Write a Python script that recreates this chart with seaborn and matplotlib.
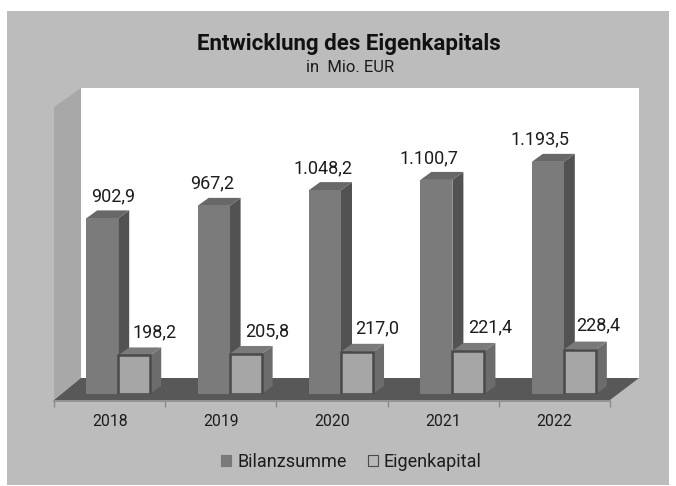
import matplotlib
matplotlib.use("Agg")
import matplotlib.pyplot as plt
import pandas as pd
import seaborn as sns
from matplotlib.patches import Polygon, Rectangle

# DATA
YEARS = ["2018", "2019", "2020", "2021", "2022"]
BILANZSUMME = [902.9, 967.2, 1048.2, 1100.7, 1193.5]
EIGENKAPITAL = [198.2, 205.8, 217.0, 221.4, 228.4]
SERIES = ["Bilanzsumme", "Eigenkapital"]

TITLE = "Entwicklung des Eigenkapitals"
SUBTITLE = "in  Mio. EUR"

# LAYOUT (pixels, origin top left like the reference)
W, H = 676, 486
DEPTH_X, DEPTH_Y = 11, 8
FONT = ["Roboto", "DejaVu Sans"]

# label nudges from the bar centre / bar top, pixels
DARK_NUDGE = [(11, 13), (-1, 14), (-2, 13), (-7, 13), (-8, 14)]
LIGHT_NUDGE = [(20, 14), (22, 14), (20, 14), (22, 15), (18, 15)]

# COLOURS
C_PANEL = "#bcbcbc"
C_WALL = "#a8a8a8"
C_FLOOR = "#585858"
C_DARK = "#7b7b7b"
C_DARK_SIDE = "#525252"
C_DARK_TOP = "#686868"
C_LIGHT = "#a6a6a6"
C_LIGHT_SIDE = "#6c6c6c"
C_LIGHT_TOP = "#7a7a7a"
C_EDGE = "#4a4a4a"
C_TEXT = "#1c1c1c"


def fx(x):
    return x / W


def fy(y):
    return 1 - y / H


def px_poly(points, color):
    return Polygon([(fx(x), fy(y)) for x, y in points], closed=True, facecolor=color,
                   edgecolor="none", transform=fig.transFigure)


def px_axes(left, top, right, bottom):
    return fig.add_axes([fx(left), fy(bottom), (right - left) / W, (bottom - top) / H])


def add_depth(bar, side_color, top_color, z):
    # side and lid of the fake 3D column, taken from the bar's own position
    x0, y0 = ax.transData.transform((bar.get_x(), 0))
    x1, y1 = ax.transData.transform((bar.get_x() + bar.get_width(), bar.get_height()))
    side = [(x1, y0), (x1 + DEPTH_X, y0 + DEPTH_Y), (x1 + DEPTH_X, y1 + DEPTH_Y), (x1, y1)]
    top = [(x0, y1), (x0 + DEPTH_X, y1 + DEPTH_Y), (x1 + DEPTH_X, y1 + DEPTH_Y), (x1, y1)]
    ax.add_patch(Polygon(side, closed=True, facecolor=side_color, edgecolor="none",
                         transform=None, zorder=z))
    ax.add_patch(Polygon(top, closed=True, facecolor=top_color, edgecolor="none",
                         transform=None, zorder=z))


sns.set_theme(style="white")
plt.rcParams["font.family"] = FONT

fig = plt.figure(figsize=(W / 100, H / 100), dpi=100, facecolor="white")

# panel, walls and floor
fig.patches.append(Rectangle((fx(7), fy(485)), (669 - 7) / W, (485 - 11) / H, facecolor=C_PANEL,
                             edgecolor="none", transform=fig.transFigure))
fig.patches.append(Rectangle((fx(81), fy(378)), (639 - 81) / W, (378 - 88) / H, facecolor="white",
                             edgecolor="none", transform=fig.transFigure))
fig.patches.append(px_poly([(54, 107), (81, 88), (81, 378), (54, 399)], C_WALL))
fig.patches.append(px_poly([(81, 378), (639, 378), (610, 400), (54, 400)], C_FLOOR))

# category axis on the front edge of the floor
ax_base = px_axes(54, 360, 610, 401)
ax_base.set_zorder(4)
ax_base.patch.set_visible(False)
ax_base.set_xlim(-0.5, 4.5)
ax_base.set_ylim(0, 1)
ax_base.set_yticks([])
ax_base.set_xticks(range(len(YEARS)), YEARS)
ax_base.set_xticks([i - 0.5 for i in range(len(YEARS) + 1)], minor=True)
ax_base.tick_params(axis="x", which="major", length=0, pad=9.5, labelsize=11.3, labelcolor=C_TEXT)
ax_base.tick_params(axis="x", which="minor", length=4, width=1, color="#8a8a8a", bottom=True)
for name, spine in ax_base.spines.items():
    spine.set_visible(name == "bottom")
ax_base.spines["bottom"].set_color("#8a8a8a")
ax_base.spines["bottom"].set_linewidth(1.2)

# bars
ax = px_axes(62.5, 88, 619.5, 394)
ax.set_zorder(5)
ax.patch.set_visible(False)
df = pd.DataFrame({
    "Jahr": YEARS * 2,
    "Wert": BILANZSUMME + EIGENKAPITAL,
    "Reihe": [SERIES[0]] * len(YEARS) + [SERIES[1]] * len(YEARS),
})
sns.barplot(data=df, x="Jahr", y="Wert", hue="Reihe", hue_order=SERIES,
            palette=[C_DARK, C_LIGHT], saturation=1, width=0.575, gap=0, legend=False, ax=ax)
ax.set_xlim(-0.5, 4.5)
ax.set_ylim(0, (394 - 88) / 0.1945)
ax.axis("off")

dark_bars, light_bars = ax.containers[0], ax.containers[1]
for i, bar in enumerate(dark_bars):
    add_depth(bar, C_DARK_SIDE, C_DARK_TOP, 2)
    bar.set_zorder(3)
    bar.set_linewidth(0)
    ax.annotate(f"{BILANZSUMME[i]:,.1f}".replace(",", "X").replace(".", ",").replace("X", "."),
                (bar.get_x() + bar.get_width() / 2, bar.get_height()),
                xytext=DARK_NUDGE[i], textcoords="offset pixels", ha="center", va="bottom",
                fontsize=13, color=C_TEXT, zorder=8, annotation_clip=False)
for i, bar in enumerate(light_bars):
    add_depth(bar, C_LIGHT_SIDE, C_LIGHT_TOP, 4)
    bar.set_zorder(5)
    bar.set_edgecolor(C_EDGE)
    bar.set_linewidth(1.8)
    ax.annotate(f"{EIGENKAPITAL[i]:.1f}".replace(".", ","),
                (bar.get_x() + bar.get_width() / 2, bar.get_height()),
                xytext=LIGHT_NUDGE[i], textcoords="offset pixels", ha="center", va="bottom",
                fontsize=13, color=C_TEXT, zorder=8, annotation_clip=False)

# title
fig.text(fx(349), fy(44), TITLE, ha="center", va="center", fontsize=16, fontweight="bold", color="#111111")
fig.text(fx(350), fy(68), SUBTITLE, ha="center", va="center", fontsize=12, color=C_TEXT)

# legend
handles = [Rectangle((0, 0), 1, 1, facecolor=C_DARK, edgecolor="#777777", linewidth=0.8),
           Rectangle((0, 0), 1, 1, facecolor="#b8b8b8", edgecolor=C_EDGE, linewidth=0.8)]
fig.legend(handles, SERIES, loc="center", bbox_to_anchor=(fx(351.5), fy(462)), ncol=2, frameon=False,
           fontsize=13, handlelength=0.55, handleheight=0.55, handletextpad=0.35, columnspacing=1.15,
           labelcolor=C_TEXT)

fig.savefig("out.png", dpi=100, facecolor=fig.get_facecolor())
